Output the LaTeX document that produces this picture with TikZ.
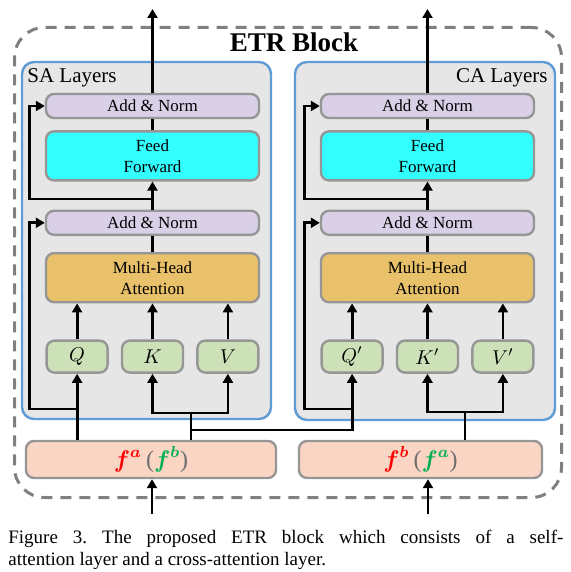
\documentclass[tikz,border=0pt]{standalone}
\usepackage{amsmath,amssymb}
\usepackage{fontspec}
\setmainfont{Liberation Serif}
\usepackage{xcolor}
\usetikzlibrary{arrows.meta, positioning}

\definecolor{normfill}{RGB}{217,208,232}
\definecolor{ffnfill}{RGB}{51,255,255}
\definecolor{mhafill}{RGB}{232,193,106}
\definecolor{qkvfill}{RGB}{205,225,185}
\definecolor{featfill}{RGB}{250,213,196}
\definecolor{boxgray}{RGB}{150,150,150}
\definecolor{layerblue}{RGB}{95,155,213}
\definecolor{layergray}{RGB}{230,230,230}
\definecolor{dashgray}{RGB}{128,128,128}
\definecolor{featred}{RGB}{255,0,0}
\definecolor{featgreen}{RGB}{0,176,80}
\definecolor{parengray}{RGB}{110,110,110}

\begin{document}
\begin{tikzpicture}[
    x=0.5pt, y=-0.5pt,
    font=\fontsize{8.5}{10.5}\selectfont,
    base/.style={draw=boxgray, line width=1.2pt, rounded corners=4pt, align=center, inner sep=0pt, minimum width=106.5pt},
    norm/.style={base, fill=normfill, minimum height=12pt},
    ffn/.style={base, fill=ffnfill, minimum height=24.5pt},
    mha/.style={base, fill=mhafill, minimum height=24.5pt},
    qkv/.style={base, fill=qkvfill, minimum width=30.5pt, minimum height=16pt, font=\fontsize{10}{12}\selectfont},
    feat/.style={base, fill=featfill, minimum height=18.5pt, font=\fontsize{12}{14}\selectfont},
    layer/.style={draw=layerblue, fill=layergray, line width=1.2pt, rounded corners=6pt, inner sep=0pt},
    arr/.style={-{Triangle[length=4.5pt, width=5pt]}, line width=1.4pt},
    line/.style={line width=1.4pt}
]
\useasboundingbox (0,0) rectangle (571,572);

% Outer block and title
\node[draw=dashgray, line width=1.5pt, dash pattern=on 5.5pt off 4pt, rounded corners=15pt,
      minimum width=273.5pt, minimum height=235pt, inner sep=0pt] (etr) at (288,262.5) {};
\node[font=\fontsize{13.5}{16}\selectfont\bfseries, anchor=base, inner sep=0pt] (title) at (294,52) {ETR Block};

% Layer panels
\node[layer, minimum width=124.5pt, minimum height=178.5pt] (sa) at (146.5,240.5) {};
\node[layer, minimum width=130pt, minimum height=179pt] (ca) at (425,241) {};
\node[font=\fontsize{10.5}{12}\selectfont, anchor=base west, inner sep=0pt] (salabel) at (27,83) {SA Layers};
\node[font=\fontsize{10.5}{12}\selectfont, anchor=base east, inner sep=0pt] (calabel) at (548,83) {CA Layers};

% 1. SA column
\node[norm] (an1) at (152.5,106) {Add \& Norm};
\node[ffn, below=5.5pt of an1] (ff1) {Feed\\Forward};
\node[norm, below=14pt of ff1] (an2) {Add \& Norm};
\node[mha, below=8pt of an2] (mha1) {Multi-Head\\Attention};
\node[qkv, below=18pt of mha1] (k1) {$K$};
\node[qkv, left=6pt of k1] (q1) {$Q$};
\node[qkv, right=6pt of k1] (v1) {$V$};

% 2. CA column
\node[norm] (an3) at (427.5,106) {Add \& Norm};
\node[ffn, below=5.5pt of an3] (ff2) {Feed\\Forward};
\node[norm, below=14pt of ff2] (an4) {Add \& Norm};
\node[mha, below=8pt of an4] (mha2) {Multi-Head\\Attention};
\node[qkv, below=18pt of mha2] (k2) {$K'$};
\node[qkv, left=6pt of k2] (q2) {$Q'$};
\node[qkv, right=6pt of k2] (v2) {$V'$};

% 3. Features
\node[feat, minimum width=125pt] (fin1) at (151,459.5)
    {\textcolor{featred}{$\boldsymbol{f}^{\boldsymbol{a}}$}\,\textcolor{parengray}{(}\textcolor{featgreen}{$\boldsymbol{f}^{\boldsymbol{b}}$}\textcolor{parengray}{)}};
\node[feat, minimum width=121.5pt] (fin2) at (420.5,459.5)
    {\textcolor{featred}{$\boldsymbol{f}^{\boldsymbol{b}}$}\,\textcolor{parengray}{(}\textcolor{featgreen}{$\boldsymbol{f}^{\boldsymbol{a}}$}\textcolor{parengray}{)}};

% Caption
\node[anchor=north west, text width=277.5pt, align=justify, inner sep=0pt,
      font=\fontsize{9.5}{11}\selectfont\frenchspacing] (caption) at (8,530)
    {Figure 3. The proposed ETR block which consists of a self-\linebreak attention layer and a cross-attention layer.};

% Free ends and junctions
\coordinate (out1) at (152.5,9);
\coordinate (out2) at (427.5,9);
\coordinate (in1) at (152,514);
\coordinate (in2) at (428,514);
\coordinate (r1) at (152.5,199);
\coordinate (r3) at (427.5,199);
\coordinate (jq1) at (q1.south |- 0,409);
\coordinate (jq2) at (q2.south |- 0,409);
\coordinate (s1) at (191,413);
\coordinate (s2) at (191,430);
\coordinate (s3) at (465,412);

% Connections / Arrows
\draw[arr] (an1.north) -- (out1);
\draw[line] (ff1) -- (an1);
\draw[arr] (an2) -- (ff1);
\draw[arr] (r1) -| ([xshift=-7.5pt]an1.west) -- (an1.west);
\draw[line] (mha1) -- (an2);
\draw[arr] (jq1) -| ([xshift=-7.5pt]an2.west) -- (an2.west);
\draw[arr] (q1.north) -- (q1.north |- mha1.south);
\draw[arr] (k1.north) -- (k1.north |- mha1.south);
\draw[arr] (v1.north) -- (v1.north |- mha1.south);
\draw[arr] (fin1.north -| q1.south) -- (q1.south);
\draw[line] (fin1.north -| s1) -- (s1);
\draw[arr] (s1) -| (k1.south);
\draw[arr] (s1) -| (v1.south);
\draw[arr] (s2) -| (q2.south);

\draw[arr] (an3.north) -- (out2);
\draw[line] (ff2) -- (an3);
\draw[arr] (an4) -- (ff2);
\draw[arr] (r3) -| ([xshift=-7.5pt]an3.west) -- (an3.west);
\draw[line] (mha2) -- (an4);
\draw[arr] (jq2) -| ([xshift=-7.5pt]an4.west) -- (an4.west);
\draw[arr] (q2.north) -- (q2.north |- mha2.south);
\draw[arr] (k2.north) -- (k2.north |- mha2.south);
\draw[arr] (v2.north) -- (v2.north |- mha2.south);
\draw[line] (fin2.north -| s3) -- (s3);
\draw[arr] (s3) -| (k2.south);
\draw[arr] (s3) -| (v2.south);

\draw[arr] (in1) -- (in1 |- fin1.south);
\draw[arr] (in2) -- (in2 |- fin2.south);

\end{tikzpicture}
\end{document}
